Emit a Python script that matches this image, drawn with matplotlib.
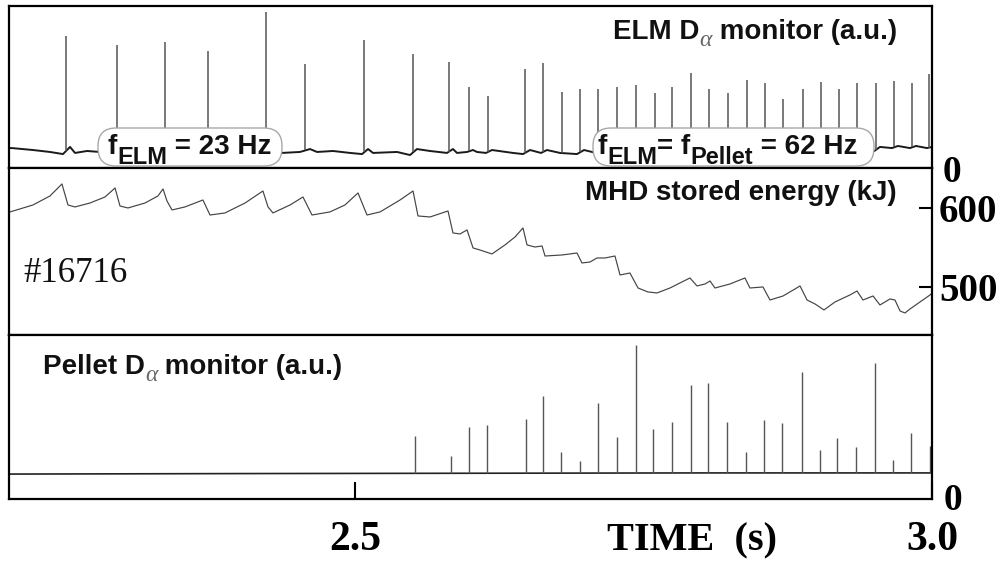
import numpy as np
import matplotlib
matplotlib.use("Agg")
import matplotlib.pyplot as plt
from matplotlib.patches import FancyBboxPatch
from matplotlib.transforms import IdentityTransform

# ---------------------------------------------------------------- data
# time window (s)
t_range = (2.2, 3.0)

# ELM D-alpha monitor: spike times (s) and peak levels (a.u.)
elm_t = [2.2491, 2.2936, 2.3352, 2.3725, 2.4228, 2.4566, 2.5077, 2.5502,
         2.5814, 2.5987, 2.6152, 2.6472, 2.6628, 2.6793, 2.6949, 2.7105,
         2.7270, 2.7434, 2.7599, 2.7746, 2.7911, 2.8067, 2.8231, 2.8396,
         2.8553, 2.8709, 2.8882, 2.9038, 2.9194, 2.9350, 2.9515, 2.9671,
         2.9827, 2.9974]
elm_peak = [8.15, 7.59, 7.78, 7.22, 9.63, 6.42, 7.90, 7.04,
            6.54, 5.00, 4.44, 6.11, 6.48, 4.69, 4.88, 4.88,
            5.00, 5.12, 4.63, 5.00, 5.86, 4.88, 4.63, 5.43,
            5.25, 4.26, 4.88, 5.31, 4.88, 5.25, 5.25, 5.37,
            5.25, 5.80]
# ELM D-alpha baseline between bursts (a.u.)
elm_base_t = [2.2000, 2.2026, 2.2208, 2.2355, 2.2468, 2.2529, 2.2572, 2.2676,
              2.2789, 2.2919, 2.2962, 2.3135, 2.3335, 2.3395, 2.3569, 2.3707,
              2.3759, 2.4002, 2.4210, 2.4262, 2.4366, 2.4522, 2.4609, 2.4670,
              2.4808, 2.4956, 2.5060, 2.5112, 2.5155, 2.5363, 2.5476, 2.5536,
              2.5649, 2.5796, 2.5848, 2.5883, 2.5970, 2.6022, 2.6056, 2.6134,
              2.6186, 2.6368, 2.6455, 2.6516, 2.6611, 2.6663, 2.6776, 2.6923,
              2.6984, 2.7088, 2.9500, 2.9549, 2.9653, 2.9705, 2.9809, 2.9861,
              2.9957, 3.0000]
elm_base_v = [1.23, 1.23, 1.11, 0.99, 0.86, 1.30, 0.93, 1.05,
              0.99, 0.93, 1.17, 0.99, 0.93, 1.17, 0.99, 0.93,
              1.17, 0.99, 0.86, 1.17, 0.93, 0.99, 1.17, 0.99,
              1.05, 0.93, 0.86, 1.17, 0.93, 0.99, 0.80, 1.17,
              1.05, 0.93, 1.17, 0.93, 0.99, 1.11, 0.99, 0.93,
              1.11, 0.93, 0.86, 1.11, 0.93, 1.11, 0.93, 0.86,
              1.11, 0.93, 1.05, 1.30, 1.23, 1.36, 1.23, 1.36,
              1.23, 1.30]

# MHD stored energy (kJ)
wmhd_t = [2.2009, 2.2208, 2.2355, 2.2459, 2.2511, 2.2572, 2.2702, 2.2832,
          2.2919, 2.2962, 2.3031, 2.3179, 2.3291, 2.3335, 2.3369, 2.3413,
          2.3525, 2.3681, 2.3742, 2.3872, 2.4046, 2.4201, 2.4245, 2.4288,
          2.4436, 2.4548, 2.4626, 2.4782, 2.4912, 2.5025, 2.5103, 2.5216,
          2.5389, 2.5502, 2.5545, 2.5649, 2.5805, 2.5848, 2.5909, 2.5970,
          2.6022, 2.6082, 2.6186, 2.6299, 2.6386, 2.6455, 2.6490, 2.6559,
          2.6620, 2.6646, 2.6793, 2.6862, 2.6923, 2.6966, 2.7036, 2.7096,
          2.7166, 2.7252, 2.7296, 2.7382, 2.7452, 2.7538, 2.7616, 2.7729,
          2.7816, 2.7902, 2.7963, 2.8033, 2.8076, 2.8119, 2.8249, 2.8379,
          2.8422, 2.8535, 2.8596, 2.8709, 2.8813, 2.8856, 2.8917, 2.8986,
          2.9064, 2.9159, 2.9289, 2.9350, 2.9402, 2.9489, 2.9549, 2.9636,
          2.9679, 2.9723, 2.9766, 2.9809, 2.9896, 2.9983, 3.0000]
wmhd_v = [595.0, 603.8, 615.2, 630.4, 603.8, 601.3, 606.3, 613.9,
          625.3, 602.5, 600.0, 606.3, 615.2, 624.1, 608.9, 597.5,
          601.3, 610.1, 591.1, 593.7, 606.3, 621.5, 601.3, 593.7,
          603.8, 613.9, 591.1, 595.0, 603.8, 619.0, 591.1, 595.0,
          610.1, 621.5, 589.9, 588.6, 596.2, 568.4, 567.1, 572.2,
          549.4, 546.8, 541.8, 553.2, 563.3, 574.7, 553.2, 550.6,
          551.9, 539.2, 540.5, 541.8, 543.0, 530.4, 531.6, 536.7,
          536.7, 539.2, 515.2, 517.7, 498.7, 493.7, 492.4, 498.7,
          505.1, 511.4, 501.3, 503.8, 507.6, 498.7, 503.8, 511.4,
          498.7, 500.0, 483.5, 488.6, 497.5, 501.3, 483.5, 478.5,
          470.9, 481.0, 489.9, 494.9, 483.5, 488.6, 477.2, 484.8,
          483.5, 469.6, 467.1, 472.1, 481.0, 489.9, 492.4]

# Pellet D-alpha monitor: pellet ablation times (s) and peak levels (a.u.)
pellet_t = [2.5519, 2.5831, 2.5987, 2.6143, 2.6481, 2.6628, 2.6784, 2.6949,
            2.7105, 2.7270, 2.7434, 2.7582, 2.7746, 2.7911, 2.8058, 2.8223,
            2.8388, 2.8544, 2.8700, 2.8873, 2.9029, 2.9177, 2.9341, 2.9506,
            2.9662, 2.9818, 2.9983]
pellet_peak = [3.84, 2.62, 4.39, 4.51, 4.88, 6.28, 2.87, 2.32,
               5.85, 3.78, 9.39, 4.27, 4.70, 6.95, 7.07, 4.70,
               2.87, 4.82, 4.63, 7.74, 2.99, 3.72, 3.17, 8.29,
               2.38, 4.02, 3.23]
pellet_base_t = [2.2000, 2.4000, 2.6000, 2.8000, 3.0000]
pellet_base_v = [1.52, 1.55, 1.57, 1.59, 1.59]

energy_ticks = [500, 600]
time_ticks = [2.5, 3.0]
time_tick_labels = ["2.5", "3.0"]

# ---------------------------------------------------------------- figure
W_PX, H_PX = 1008, 562
fig = plt.figure(figsize=(W_PX / 100, H_PX / 100), dpi=100)
fig.patch.set_facecolor("white")

SANS = "Liberation Sans"
SERIF = "Liberation Serif"


def px_axes(left, top, right, bottom):
    return fig.add_axes([left / W_PX, 1 - bottom / H_PX,
                         (right - left) / W_PX, (bottom - top) / H_PX])


ax1 = px_axes(9, 6, 932, 168)
ax2 = px_axes(9, 168, 932, 335)
ax3 = px_axes(9, 335, 932, 499)

for ax in (ax1, ax2, ax3):
    ax.set_xlim(*t_range)
    for sp in ax.spines.values():
        sp.set_linewidth(1.6)
        sp.set_color("black")
    ax.tick_params(left=False, labelleft=False, bottom=False, labelbottom=False)

# ELM D-alpha trace
ax1.set_ylim(0, 10)
ax1.plot(elm_base_t, elm_base_v, color="#1a1a1a", lw=1.4, zorder=2)
ax1.vlines(elm_t, np.interp(elm_t, elm_base_t, elm_base_v), elm_peak,
           color="#555555", lw=1.1, zorder=2)

# stored energy trace
ax2.set_ylim(439.2, 650.6)
ax2.plot(wmhd_t, wmhd_v, color="#444444", lw=0.85, zorder=2)
ax2.yaxis.tick_right()
ax2.set_yticks(energy_ticks)
ax2.set_yticklabels([str(v) for v in energy_ticks], fontfamily=SERIF,
                    fontweight="bold", fontsize=28)
ax2.tick_params(axis="y", right=True, labelright=True, direction="in",
                length=9.5, width=1.5, pad=5)

# pellet D-alpha trace
ax3.set_ylim(0, 10)
ax3.plot(pellet_base_t, pellet_base_v, color="#222222", lw=1.2, zorder=2)
ax3.vlines(pellet_t, np.interp(pellet_t, pellet_base_t, pellet_base_v),
           pellet_peak, color="#555555", lw=1.0, zorder=2)
ax3.set_xticks(time_ticks)
ax3.set_xticklabels(time_tick_labels, fontfamily=SERIF, fontweight="bold",
                    fontsize=30)
ax3.tick_params(axis="x", bottom=True, labelbottom=True, direction="in",
                length=12, width=1.5, pad=16)


# ---------------------------------------------------------------- labels
def rich_text(ax, x, y, pieces, ha="left"):
    """Run of text pieces with own sizes / offsets; (x, y) = bottom of first box in px."""
    seq = pieces if ha == "left" else pieces[::-1]
    txt0, kw0 = seq[0]
    props0 = {k: v for k, v in kw0.items() if k != "dy"}
    anchor = ax.text(x, H_PX - y + kw0.get("dy", 0), txt0,
                     transform=IdentityTransform(), ha=ha, va="bottom",
                     zorder=6, **props0)
    prev = anchor
    for txt, kw in seq[1:]:
        props = {k: v for k, v in kw.items() if k != "dy"}
        xy = (1, 0) if ha == "left" else (0, 0)
        prev = ax.annotate(txt, xy=xy, xycoords=(prev, anchor),
                           xytext=(0, -kw.get("dy", 0)),
                           textcoords="offset pixels", ha=ha, va="bottom",
                           zorder=6, **props)
    return anchor


main = dict(family=SANS, weight="bold", size=20, color="#111111")
sub = dict(family=SANS, weight="bold", size=17, color="#111111", dy=8)
alpha = dict(family=SERIF, style="italic", size=17, color="#666666", dy=6)

rich_text(ax1, 897, 45, [("ELM D", main), ("\u03b1", alpha),
                         (" monitor (a.u.)", main)], ha="right")
ax2.text(897, H_PX - 200, "MHD stored energy (kJ)", transform=IdentityTransform(),
         ha="right", va="baseline", fontfamily=SANS, fontweight="bold",
         fontsize=20, color="#111111")
rich_text(ax3, 43, 380, [("Pellet D", main), ("\u03b1", alpha),
                         (" monitor (a.u.)", main)])

ax2.text(23, H_PX - 273, "#16716", transform=IdentityTransform(), ha="left",
         va="center", fontfamily=SERIF, fontsize=25, color="#111111")

# frequency bubbles
for (bx0, bx1) in [(98, 282), (593, 874)]:
    ax1.add_patch(FancyBboxPatch((bx0, H_PX - 166), bx1 - bx0, 38,
                                 boxstyle="round,pad=0,rounding_size=18",
                                 transform=IdentityTransform(), fc="white",
                                 ec="#a8a8a8", lw=1.0, zorder=5, clip_on=False))

rich_text(ax1, 108, 160.5, [("f", main), ("ELM", sub), (" = 23 Hz", main)])
rich_text(ax1, 598, 160.5, [("f", main), ("ELM", sub), ("= f", main),
                            ("Pellet", sub), (" = 62 Hz", main)])

# zero markers and time label
for (zx, zy) in [(952, 173), (953, 500)]:
    fig.text(zx / W_PX, 1 - zy / H_PX, "0", ha="center", va="center",
             fontfamily=SERIF, fontweight="bold", fontsize=27)
fig.text(692 / W_PX, 1 - 550 / H_PX, "TIME  (s)", ha="center", va="baseline",
         fontfamily=SERIF, fontweight="bold", fontsize=29)

fig.savefig("out.png", dpi=100)
